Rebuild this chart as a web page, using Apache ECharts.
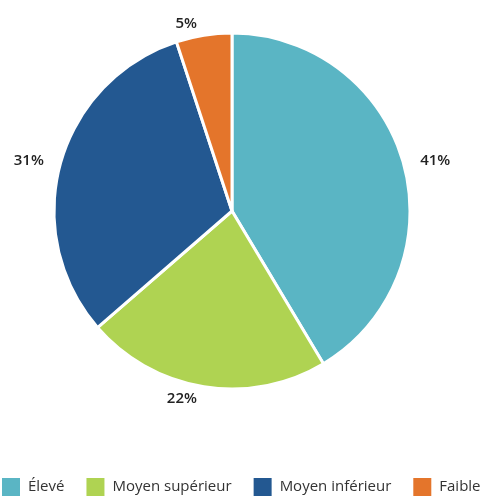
<!DOCTYPE html>
<html>
<head>
<meta charset="utf-8">
<script src="https://cdn.jsdelivr.net/npm/echarts@6/dist/echarts.min.js"></script>
<style>
  html, body { margin: 0; padding: 0; background: #fff; }
  #chart { width: 482px; height: 497px; }
</style>
</head>
<body>
<div id="chart"></div>
<script>
var categories = ['Élevé', 'Moyen supérieur', 'Moyen inférieur', 'Faible'];
var values = [41, 22, 31, 5];
var colors = ['#5ab5c4', '#afd352', '#235891', '#e4752b'];

var chart = echarts.init(document.getElementById('chart'));
var data = categories.map(function (name, i) {
    return { name: name, value: values[i], itemStyle: { color: colors[i] } };
});
var option = {
    animation: false,
    textStyle: { fontFamily: 'Open Sans' },
    legend: {
        left: 0,
        top: 476,
        padding: 0,
        itemWidth: 20,
        itemHeight: 20,
        itemGap: 20,
        icon: 'rect',
        textStyle: { fontSize: 15, color: '#333', fontFamily: 'Open Sans', padding: [0, 0, 0, 2] },
        data: categories
    },
    series: [{
        type: 'pie',
        center: [232, 211],
        radius: [0, 178],
        startAngle: 90,
        clockwise: true,
        itemStyle: { borderColor: '#fff', borderWidth: 3 },
        label: {
            position: 'outside',
            formatter: function (p) { return p.value + '%'; },
            fontSize: 15,
            fontWeight: 600,
            color: '#222',
            fontFamily: 'Open Sans'
        },
        labelLine: { show: false, length: 12, length2: 0 },
        data: data
    }]
};
chart.setOption(option);
</script>
</body>
</html>
